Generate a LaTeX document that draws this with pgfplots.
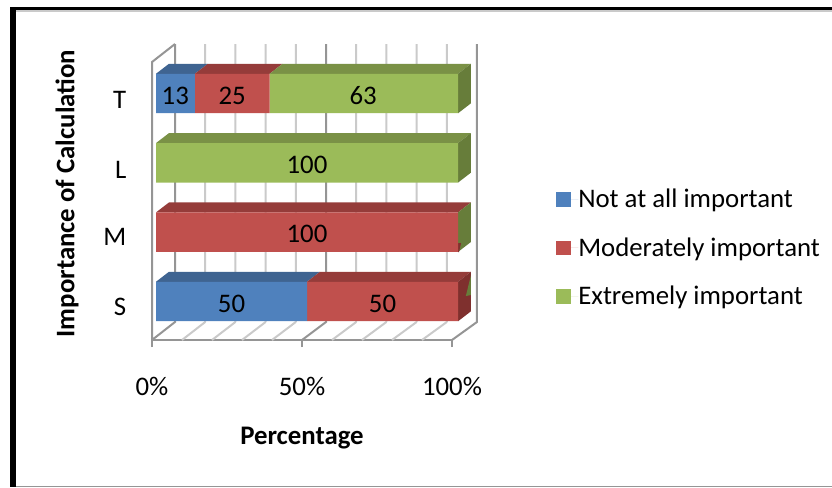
\documentclass[border=0pt]{standalone}
\usepackage{fontspec}
\setmainfont{Carlito}
\usepackage{pgfplots}
\usepackage{pgfplotstable}
\pgfplotsset{compat=1.18}

\definecolor{blueF}{HTML}{4F81BD}
\definecolor{redF}{HTML}{C0504D}
\definecolor{greenF}{HTML}{9BBB59}
\definecolor{blueT}{HTML}{3F6491}
\definecolor{redT}{HTML}{953C3A}
\definecolor{greenT}{HTML}{7A9146}
\definecolor{redS}{HTML}{7F302E}
\definecolor{greenS}{HTML}{677D3A}
\definecolor{gridL}{HTML}{CACACA}
\definecolor{gridD}{HTML}{959595}

\newcommand{\chartfont}{\fontsize{20.1}{23}\selectfont}

% Share of answers per subject: pos is the row on the vertical axis
\pgfplotstableread{
pos none moderate extreme total
0   50   50       0       100
1   0    100      0       100
2   0    0        100     100
3   13   25       63      101
}\answers

% Centres of the stated values
\pgfplotstableread{
cx   cy v
25   0  50
75   0  50
50   1  100
50   2  100
6.4  3  13
25.2 3  25
68.6 3  63
}\valuelabels

\pgfplotsset{
  barframe/.style={
    at={(117pt,113.12pt)}, anchor=south west,
    scale only axis, width=226.5pt, height=208pt,
    xmin=0, xmax=100, ymin=-0.5, ymax=3.5,
    hide axis, clip=false,
  },
  swatch/.style={
    legend image code/.code={
      \fill[##1] (0pt,-5.6pt) rectangle (11.25pt,5.6pt);
      \path (0pt,0pt) -- (16.5pt,0pt);
    },
  },
}

\begin{document}
\begin{tikzpicture}
\path[use as bounding box] (0pt,0pt) rectangle (624pt,365.25pt);

% page frame
\fill[gridL] (12pt,357.75pt) rectangle (624pt,356.6pt);
\fill[black] (7.5pt,360pt) rectangle (624pt,357.4pt);
\fill[black] (7.5pt,360pt) rectangle (12pt,0pt);
\fill[gridD] (12pt,1.1pt) rectangle (624pt,0pt);

% walls, floor and the horizontal scale
\begin{axis}[
  at={(114pt,110.25pt)}, anchor=south west,
  scale only axis, width=225pt, height=222pt,
  xmin=0, xmax=100, ymin=0, ymax=296, clip=false,
  axis x line=bottom, axis y line=left,
  x axis line style={-, draw=gridD, line width=1.5pt},
  y axis line style={draw=none},
  xtick={0,50,100}, xticklabels={0\%,50\%,100\%},
  ytick={33,103,170,240}, yticklabels={S,M,L,T},
  tick align=outside, major tick length=5.25pt,
  xtick style={draw=gridD, line width=1.5pt},
  ytick style={draw=none},
  tick label style={font=\chartfont},
  xticklabel style={anchor=center, yshift=-29.5pt},
  yticklabel style={anchor=east, xshift=-10.5pt},
  xlabel={\bfseries Percentage},
  ylabel={\bfseries Importance of Calculation},
  label style={font=\chartfont},
  xlabel style={at={(axis description cs:0.5,-0.3277)}, anchor=center, yshift=-0.7pt},
  ylabel style={at={(axis description cs:-0.2833,0.4916)}, anchor=center, rotate=0, xshift=0.7pt},
  unbounded coords=jump,
]
\addplot[gridL, line width=1.5pt, mark=none] coordinates {
  (17.73,18) (17.73,296) (nan,nan) (10,0) (17.73,18) (nan,nan)
  (27.80,18) (27.80,296) (nan,nan) (20,0) (27.80,18) (nan,nan)
  (37.87,18) (37.87,296) (nan,nan) (30,0) (37.87,18) (nan,nan)
  (47.93,18) (47.93,296) (nan,nan) (40,0) (47.93,18) (nan,nan)
  (68.07,18) (68.07,296) (nan,nan) (60,0) (68.07,18) (nan,nan)
  (78.13,18) (78.13,296) (nan,nan) (70,0) (78.13,18) (nan,nan)
  (88.20,18) (88.20,296) (nan,nan) (80,0) (88.20,18) (nan,nan)
  (98.27,18) (98.27,296) (nan,nan) (90,0) (98.27,18)
};
\addplot[gridD, line width=1.5pt, mark=none] coordinates {
  (0,0) (0,278) (7.67,296) (nan,nan)
  (0,0) (7.67,18) (7.67,296) (nan,nan)
  (50,0) (58,18) (58,296) (nan,nan)
  (100,0) (108.33,18) (108.33,296)
};
\end{axis}

% top and end faces of the bars
\begin{axis}[barframe]
\addplot[fill=blueT, draw=none] coordinates {(0,3.285) (12.87,3.285) (17.17,3.429) (4.3,3.429)};
\addplot[fill=redT, draw=none] coordinates {(12.87,3.285) (37.62,3.285) (41.92,3.429) (17.17,3.429)};
\addplot[fill=greenT, draw=none] coordinates {(37.62,3.285) (100,3.285) (104.3,3.429) (41.92,3.429)};
\addplot[fill=greenS, draw=none] coordinates {(100,3.285) (104.3,3.429) (104.3,2.859) (100,2.715)};

\addplot[fill=greenT, draw=none] coordinates {(0,2.285) (100,2.285) (104.3,2.429) (4.3,2.429)};
\addplot[fill=greenS, draw=none] coordinates {(100,2.285) (104.3,2.429) (104.3,1.859) (100,1.715)};

\addplot[fill=redT, draw=none] coordinates {(0,1.285) (100,1.285) (104.3,1.429) (4.3,1.429)};
\addplot[fill=greenS, draw=none] coordinates {(100,1.285) (104.3,1.429) (104.3,0.859) (100,0.715)};
\addplot[fill=redS, draw=none] coordinates {(100,0.841) (101,0.841) (100.33,0.711) (100,0.715)};

\addplot[fill=blueT, draw=none] coordinates {(0,0.285) (50,0.285) (54.3,0.429) (4.3,0.429)};
\addplot[fill=redT, draw=none] coordinates {(50,0.285) (100,0.285) (104.3,0.429) (54.3,0.429)};
\addplot[fill=redS, draw=none] coordinates {(100,0.285) (104.3,0.429) (104.3,-0.141) (100,-0.285)};
\addplot[fill=greenS, draw=none] coordinates {(104.3,0.382) (102.6,0.079) (104.3,0.094)};
\end{axis}

% front faces, stacked to 100 per cent
\begin{axis}[barframe,
  xbar stacked, bar width=29.6pt,
  legend style={
    draw=none, fill=none, at={(1.3245,0.318)}, anchor=west,
    font=\chartfont, row sep=20.8pt, inner sep=0pt,
    nodes={inner sep=0pt},
  },
  legend cell align=left,
]
\addplot[fill=blueF, draw=none, swatch] table[y=pos, x expr=\thisrow{none}*100/\thisrow{total}] {\answers};
\addplot[fill=redF, draw=none, swatch] table[y=pos, x expr=\thisrow{moderate}*100/\thisrow{total}] {\answers};
\addplot[fill=greenF, draw=none, swatch] table[y=pos, x expr=\thisrow{extreme}*100/\thisrow{total}] {\answers};
\legend{Not at all important, Moderately important, Extremely important}
\end{axis}

% value labels on the bars
\begin{axis}[barframe]
\addplot[draw=none, mark=none, nodes near coords, point meta=explicit symbolic,
  every node near coord/.append style={anchor=center, font=\chartfont, text=black, yshift=-1.5pt}]
  table[x=cx, y=cy, meta=v] {\valuelabels};
\end{axis}
\end{tikzpicture}
\end{document}
